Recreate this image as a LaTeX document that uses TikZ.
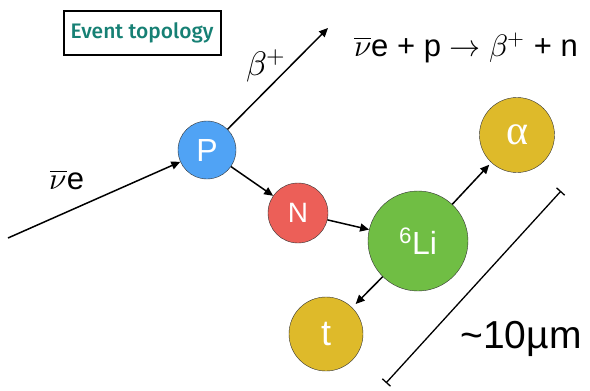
\documentclass[tikz,border=0pt]{standalone}
\usepackage{fontspec}
\usepackage{unicode-math}
\setmainfont{Liberation Sans}
\setmathfont{Latin Modern Math}
\newfontfamily\topofont{Fira Sans Medium}
\newfontfamily\grkfont{Liberation Serif}
\usetikzlibrary{arrows.meta}
\definecolor{protCol}{RGB}{80,163,245}
\definecolor{neutCol}{RGB}{236,95,88}
\definecolor{liCol}{RGB}{112,190,68}
\definecolor{prodCol}{RGB}{222,186,42}
\definecolor{tealCol}{RGB}{22,128,116}
\tikzset{
  part/.style={circle,draw=black!80,thin,text=white,inner sep=0pt},
  flow/.style={-{Triangle[length=9pt,width=8pt]},line width=1.5pt},
  lbl/.style={inner sep=0pt},
}

\begin{document}
\begin{tikzpicture}[x=1pt,y=-1pt]
  \useasboundingbox (0,0) rectangle (590,391);
  % --- title box ---
  \node[draw,line width=2pt,minimum width=157pt,minimum height=44pt,text=tealCol,
        font=\topofont\fontsize{21}{23}\selectfont] (title) at (142,32.5) {Event topology};
  % --- particles ---
  \node[part,fill=protCol,minimum size=58pt,font=\fontsize{32}{34}\selectfont] (P) at (207,150) {P};
  \node[part,fill=neutCol,minimum size=60pt,font=\fontsize{28}{30}\selectfont] (N) at (298,213) {N};
  \node[part,fill=liCol,minimum size=100pt,font=\fontsize{32}{34}\selectfont] (Li) at (418,241) {\textsuperscript{6}Li};
  \node[part,fill=prodCol,minimum size=75pt,font=\grkfont\fontsize{42}{44}\selectfont] (alpha) at (517,135) {α};
  \node[part,fill=prodCol,minimum size=74pt,font=\fontsize{36}{38}\selectfont] (t) at (326,334) {t};
  % --- free ends ---
  \coordinate (nuin) at (8,238);
  \coordinate (betaout) at (328,28);
  \coordinate (sbTop) at (561,191);
  \coordinate (sbBot) at (386,383);
  % --- connectors ---
  \draw[flow] (nuin) -- (P);
  \draw[flow] (P) -- (betaout);
  \draw[flow] (P) -- (N);
  \draw[flow] (N) -- (Li);
  \draw[flow,shorten >=3pt] (Li) -- (alpha);
  \draw[flow,shorten >=5pt] (Li) -- (t);
  \draw[{Bar[width=11pt]}-{Bar[width=11pt]},line width=1.3pt] (sbBot) -- (sbTop);
  % --- labels ---
  \node[lbl,font=\fontsize{31}{33}\selectfont] (nulab) at (67,180) {$\overline{\nu}$e};
  \node[lbl,font=\fontsize{34}{36}\selectfont] (betalab) at (266,66) {$\beta^{+}$};
  \node[lbl,font=\fontsize{31}{33}\selectfont] (eqn) at (466,48)
      {$\overline{\nu}$e + p $\rightarrow$ $\beta^{+}$ + n};
  \node[lbl,font=\fontsize{39}{41}\selectfont] (size) at (521,339) {\textasciitilde10µm};
\end{tikzpicture}
\end{document}
